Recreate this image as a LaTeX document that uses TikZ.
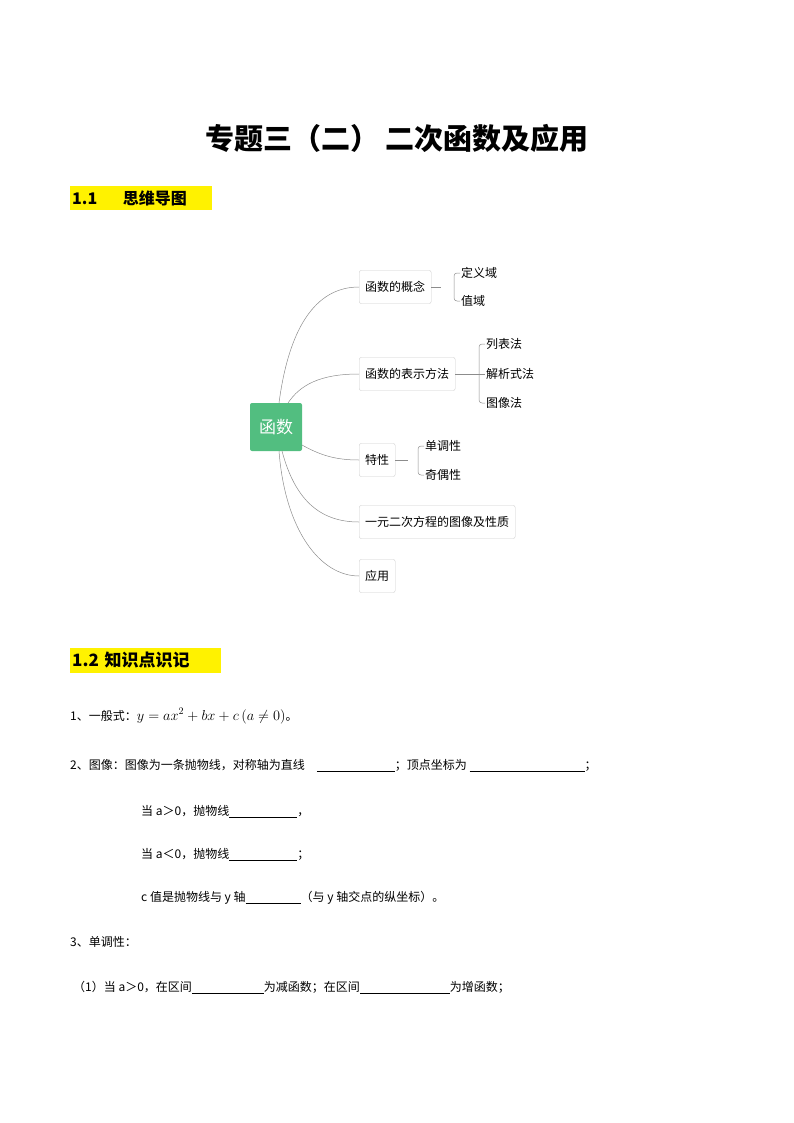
\documentclass[tikz,border=0pt]{standalone}
\usepackage{fontspec}
\setmainfont{Noto Sans CJK SC}
\usepackage{amsmath}
\definecolor{rootgreen}{RGB}{82,190,128}
\begin{document}
\begin{tikzpicture}[x=1pt,y=-1pt,
  mm/.style={draw=black!20,rounded corners=2pt,minimum height=33pt,inner sep=6pt,font=\fontsize{12}{14}\selectfont,anchor=west},
  leaf/.style={font=\fontsize{12}{14}\selectfont,anchor=west,inner sep=1pt},
  br/.style={draw=black!45,line width=0.5pt},
  body/.style={anchor=west,font=\fontsize{12}{14}\selectfont,inner sep=0pt}]
\useasboundingbox (0,0) rectangle (794,1123);
\node[font=\bfseries\fontsize{29}{34}\selectfont] (title) at (397,138) {专题三（二）\ 二次函数及应用};
\node[fill=yellow,anchor=west,minimum width=142pt,minimum height=24pt,inner sep=2pt,font=\bfseries\fontsize{16}{18}\selectfont,text width=138pt] (h1) at (70,198) {1.1\hspace{1.6em}思维导图};
\node[fill=yellow,anchor=west,minimum width=151pt,minimum height=25pt,inner sep=2pt,font=\bfseries\fontsize{17}{19}\selectfont,text width=147pt] (h2) at (70,660) {1.2 知识点识记};
% mind map
\node[fill=rootgreen,rounded corners=2pt,minimum width=52pt,minimum height=48pt,text=white,font=\fontsize{17}{20}\selectfont] (root) at (276,427) {函数};
\node[mm] (n1) at (359,287) {函数的概念};
\node[mm] (n2) at (359,374) {函数的表示方法};
\node[mm] (n3) at (359,460) {特性};
\node[mm] (n4) at (359,522) {一元二次方程的图像及性质};
\node[mm] (n5) at (359,576) {应用};
\node[leaf] (l1) at (460,273) {定义域};
\node[leaf] (l2) at (460,301) {值域};
\node[leaf] (l3) at (485,344) {列表法};
\node[leaf] (l4) at (485,374) {解析式法};
\node[leaf] (l5) at (485,403) {图像法};
\node[leaf] (l6) at (424,446) {单调性};
\node[leaf] (l7) at (424,475) {奇偶性};
\draw[br] (279,403) .. controls (290,320) and (320,287) .. (n1.west);
\draw[br] (288,403) .. controls (300,385) and (320,374) .. (n2.west);
\draw[br] (302,445) .. controls (320,455) and (335,460) .. (n3.west);
\draw[br] (282,451) .. controls (295,500) and (320,522) .. (n4.west);
\draw[br] (279,451) .. controls (285,530) and (320,576) .. (n5.west);
\draw[br] (n1.east) -- ++(10,0);
\draw[br,rounded corners=3pt] (l1.west) -- ++(-6,0) |- (l2.west);
\draw[br] (n2.east) -- (l4.west);
\draw[br,rounded corners=3pt] (l3.west) -- ++(-6,0) |- (l5.west);
\draw[br] (n3.east) -- ++(13,0);
\draw[br,rounded corners=3pt] (l6.west) -- ++(-6,0) |- (l7.west);
% body text
\node[body] (t1) at (70,716) {1、一般式：{\fontsize{14}{16}\selectfont$y=ax^2+bx+c\left(a\neq 0\right)$}。};
\node[body] (t2) at (70,766) {2、图像：图像为一条抛物线，对称轴为直线\quad\underline{\hspace{78pt}}；顶点坐标为\ \underline{\hspace{115pt}}；};
\node[body] (t3) at (141,812) {当 a＞0，抛物线\underline{\hspace{68pt}}，};
\node[body] (t4) at (141,855) {当 a＜0，抛物线\underline{\hspace{68pt}}；};
\node[body] (t5) at (141,898) {c 值是抛物线与 y 轴\underline{\hspace{55pt}}（与 y 轴交点的纵坐标）。};
\node[body] (t6) at (70,942) {3、单调性：};
\node[body] (t7) at (73,988) {（1）当 a＞0，在区间\underline{\hspace{72pt}}为减函数；在区间\underline{\hspace{90pt}}为增函数；};
\end{tikzpicture}
\end{document}
